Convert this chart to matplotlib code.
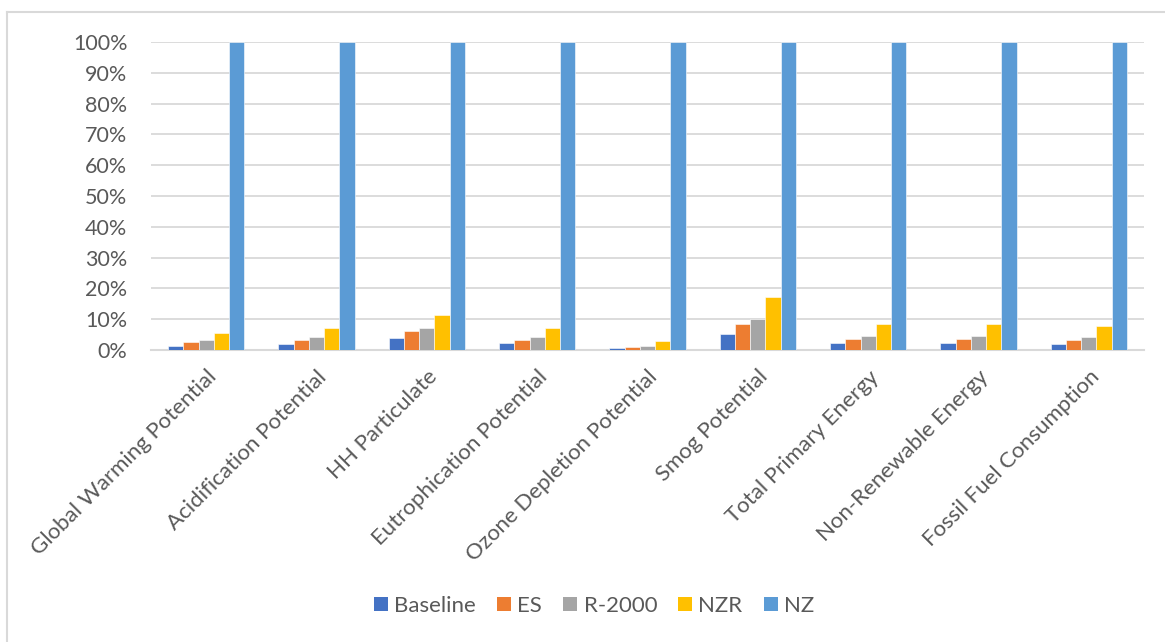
import matplotlib.pyplot as plt
import numpy as np
from matplotlib.ticker import PercentFormatter
from matplotlib.patches import Patch

plt.rcParams['font.family'] = ['Lato', 'DejaVu Sans']

# impact categories, each normalised to the NZ house
categories = ["Global Warming Potential", "Acidification Potential", "HH Particulate",
              "Eutrophication Potential", "Ozone Depletion Potential", "Smog Potential",
              "Total Primary Energy", "Non-Renewable Energy", "Fossil Fuel Consumption"]
baseline = [0.014, 0.020, 0.038, 0.022, 0.005, 0.051, 0.022, 0.022, 0.021]
es       = [0.025, 0.033, 0.062, 0.033, 0.011, 0.083, 0.036, 0.036, 0.033]
r2000    = [0.032, 0.042, 0.073, 0.041, 0.014, 0.102, 0.047, 0.047, 0.043]
nzr      = [0.055, 0.073, 0.114, 0.071, 0.028, 0.172, 0.083, 0.083, 0.077]
nz       = [1.0, 1.0, 1.0, 1.0, 1.0, 1.0, 1.0, 1.0, 1.0]

series = [("Baseline", baseline, "#4472C4"),
          ("ES", es, "#ED7D31"),
          ("R-2000", r2000, "#A5A5A5"),
          ("NZR", nzr, "#FFC000"),
          ("NZ", nz, "#5B9BD5")]

txt = "#595959"
fig = plt.figure(figsize=(11.65, 6.42), dpi=100)
ax = fig.add_axes([151/1165, 1 - 350/642, (1144 - 151)/1165, (350 - 42)/642])

x = np.arange(len(categories))
w = 0.1385
for k, (name, vals, col) in enumerate(series):
    ax.bar(x + (k - 2) * w, vals, width=w, color=col, edgecolor="white",
           linewidth=0.4, zorder=3, label=name)

ax.set_xlim(-0.5, len(categories) - 0.5)
ax.set_ylim(0, 1)
ax.set_yticks(np.arange(0, 1.01, 0.1))
ax.yaxis.set_major_formatter(PercentFormatter(1.0, decimals=0))
ax.grid(axis="y", color="#d9d9d9", linewidth=1.3, zorder=0)
for s in ["top", "right", "left"]:
    ax.spines[s].set_visible(False)
ax.spines["bottom"].set_color("#d9d9d9")
ax.spines["bottom"].set_linewidth(1.5)
ax.tick_params(axis="both", length=0, labelsize=15.5, colors=txt)
ax.tick_params(axis="y", pad=17)
ax.set_xticks(x)
ax.set_xticklabels(categories, rotation=45, ha="right", rotation_mode="anchor")
ax.tick_params(axis="x", labelsize=16, pad=12)

handles = [Patch(facecolor=c, label=n) for n, _, c in series]
fig.legend(handles=handles, loc="center", bbox_to_anchor=(0.51, 1 - 606/642),
           ncol=5, frameon=False, fontsize=16, labelcolor=txt,
           handlelength=0.63, handleheight=0.63, handletextpad=0.28, columnspacing=0.95)

# chart frame
fig.add_artist(plt.Line2D([7/1165, 7/1165], [0, 1 - 12/642], color="#d9d9d9", lw=1.5))
fig.add_artist(plt.Line2D([7/1165, 1], [1 - 12/642, 1 - 12/642], color="#d9d9d9", lw=1.5))

fig.savefig("out.png", dpi=100)
